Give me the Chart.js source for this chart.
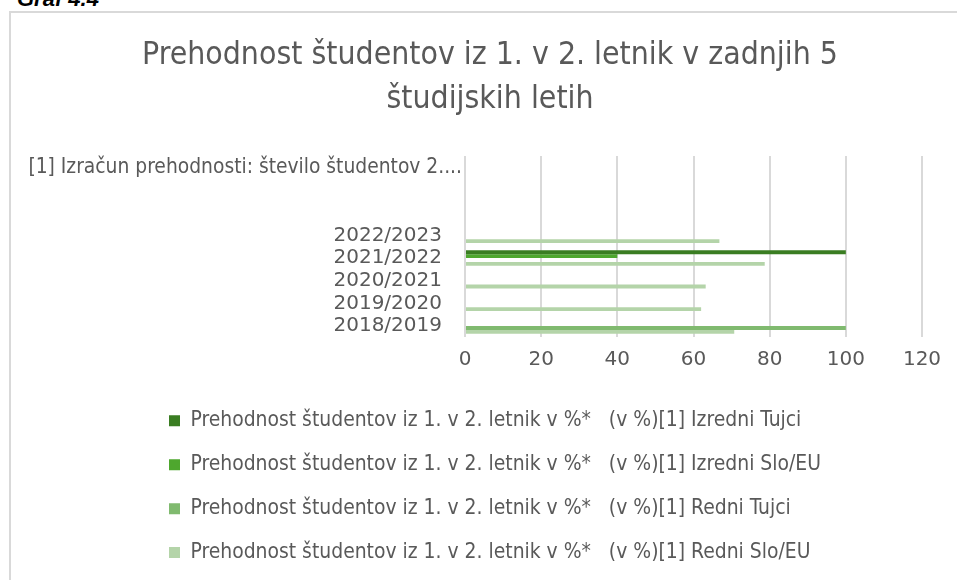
<!DOCTYPE html>
<html><head><meta charset="utf-8">
<script src="https://cdn.jsdelivr.net/npm/chart.js@4/dist/chart.umd.min.js"></script>
<style>
html,body{margin:0;padding:0;background:#fff;overflow:hidden;width:957px;height:580px;position:relative}
#cap{position:absolute;left:17px;top:-12px;font:italic bold 22px/22px 'Liberation Sans',Arial,sans-serif;color:#000;white-space:nowrap}
#frame{position:absolute;left:9px;top:11px;width:962px;height:580px;border-left:2px solid #d9d9d9;border-top:2px solid #d9d9d9;box-sizing:border-box}
#wrap{position:absolute;left:11px;top:13px;width:958px;height:567px}
</style></head><body>
<div id="cap">Graf 4.4</div>
<div id="frame"></div>
<div id="wrap"><canvas id="c" width="958" height="567"></canvas></div>
<script>
// ---- data ----
const categories = [
  "[1] Izračun prehodnosti: število študentov 2....",
  "", "",
  "2022/2023", "2021/2022", "2020/2021", "2019/2020", "2018/2019"
];
const titleLines = ["Prehodnost študentov iz 1. v 2. letnik v zadnjih 5", "študijskih letih"];
const seriesPrefix = "Prehodnost študentov iz 1. v 2. letnik v %*";
const seriesNames = ["(v %)[1] Izredni Tujci", "(v %)[1] Izredni Slo/EU", "(v %)[1] Redni Tujci", "(v %)[1] Redni Slo/EU"];
const izredniTujci  = [null, null, null, null, 100,  null, null, null];
const izredniSloEu  = [null, null, null, null, 40,   null, null, null];
const redniTujci    = [null, null, null, null, null, null, null, 100];
const redniSloEu    = [null, null, null, 66.8, 78.7, 63.2, 62.0, 70.7];
const xTicks = [0, 20, 40, 60, 80, 100, 120];

// ---- fonts ----
const mctx = document.createElement('canvas').getContext('2d');
function hasFont(name){
  const s = 'mmmmmmmmmmlli WW 1234 študentov';
  let r = false;
  for (const base of ['monospace','serif']) {
    mctx.font = '40px ' + base; const a = mctx.measureText(s).width;
    mctx.font = `40px '${name}', ${base}`; const b = mctx.measureText(s).width;
    if (a !== b) r = true;
  }
  return r;
}
const narrowCands = ['Liberation Sans Narrow','DejaVu Sans Condensed','Roboto Condensed','Open Sans Condensed','Arial Narrow'];
const narrowName = narrowCands.find(hasFont) || 'Roboto';
const narrow = `'${narrowName}', Roboto, sans-serif`;
function fitSize(text, family, target){
  mctx.font = `100px ${family}`;
  return Math.round(1000 * target / mctx.measureText(text).width) / 10;
}
const titleSize = fitSize(titleLines[0], narrow, 697);
const noteSize = fitSize(categories[0], narrow, 433);
const legendSize = fitSize(seriesPrefix, narrow, 400);
mctx.font = `${legendSize}px ${narrow}`;
const gap = ' '.repeat(Math.max(1, Math.round(20 / mctx.measureText(' ').width)));

const colors = ['#3A7D22', '#4EA72E', '#80BA6F', '#B4D4A9'];
const seriesData = [izredniTujci, izredniSloEu, redniTujci, redniSloEu];

// keep the title centred on the whole chart and left-align the legend rows
const boxAdjust = {
  id: 'boxAdjust',
  beforeDraw(chart){
    if (chart.titleBlock) { chart.titleBlock.left = 0; chart.titleBlock.right = chart.width; chart.titleBlock.width = chart.width; }
    const lg = chart.legend;
    if (lg) lg.left = 158 - lg.options.labels.padding;
  }
};

new Chart(document.getElementById('c'), {
  type: 'bar',
  data: {
    labels: categories,
    datasets: seriesData.map((d, i) => ({
      label: seriesPrefix + gap + seriesNames[i],
      data: d,
      backgroundColor: colors[i],
      borderWidth: 0,
      categoryPercentage: 0.68,
      barPercentage: 1
    }))
  },
  options: {
    indexAxis: 'y',
    responsive: false,
    animation: false,
    layout: { padding: { top: 0, right: 47, bottom: 7, left: 0 } },
    scales: {
      x: {
        min: 0, max: 120,
        afterBuildTicks(s){ s.ticks = xTicks.map(v => ({value: v})); },
        ticks: { color: '#595959', font: { family: "'DejaVu Sans', sans-serif", size: 20 }, padding: 10 },
        grid: { color: '#d9d9d9', lineWidth: 2, drawTicks: false },
        border: { display: false },
        afterFit(s){ s.height = 50; }
      },
      y: {
        grid: { display: false, drawTicks: false },
        border: { display: false },
        ticks: {
          autoSkip: false, padding: 3, color: '#595959',
          font: (ctx) => ctx.index === 0 ? { family: narrow, size: noteSize } : { family: "'DejaVu Sans', sans-serif", size: 20 },
          callback: function(v, i){ const l = this.getLabelForValue(v); return (i === 0 || l === '') ? l : l + '\u2003'; }
        },
        afterFit(s){ s.width = 454; }
      }
    },
    plugins: {
      tooltip: { enabled: false },
      title: {
        display: true, text: titleLines, color: '#595959',
        font: { family: narrow, size: titleSize, weight: 'normal', lineHeight: 44 / titleSize },
        padding: { top: 21, bottom: 34 }
      },
      legend: {
        position: 'bottom', align: 'start',
        labels: {
          color: '#595959', boxWidth: 11, boxHeight: 11, padding: 23,
          font: { family: narrow, size: legendSize }
        }
      }
    }
  },
  plugins: [boxAdjust]
});
</script>
</body></html>
